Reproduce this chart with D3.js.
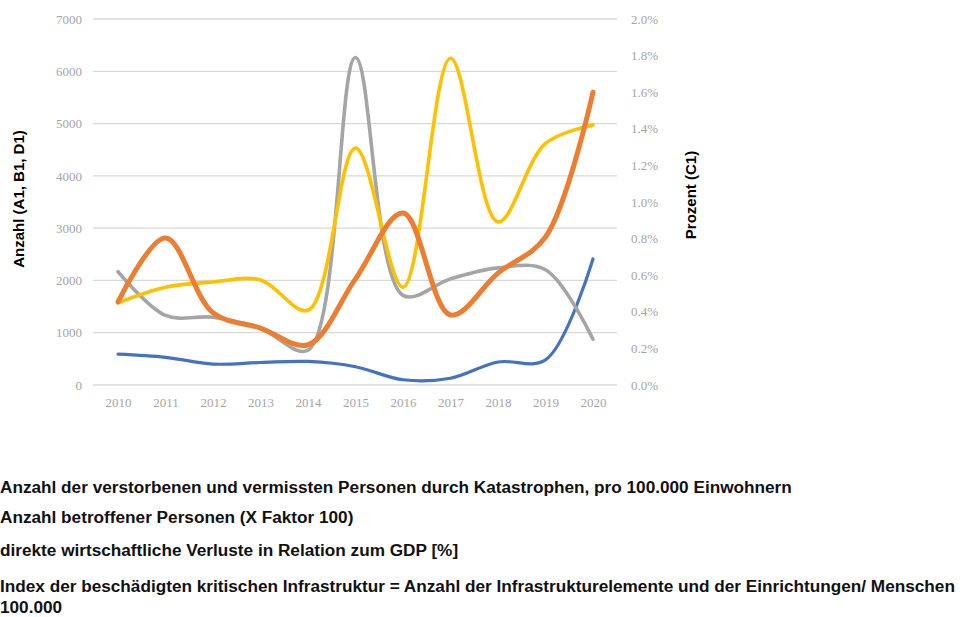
<!DOCTYPE html>
<html>
<head>
<meta charset="utf-8">
<script src="https://cdn.jsdelivr.net/npm/d3@7"></script>
<style>
  body { margin: 0; background: #fff; }
  svg { display: block; }
</style>
</head>
<body>
<svg width="974" height="617"></svg>
<script>
// years on the x axis
let years = ["2010", "2011", "2012", "2013", "2014", "2015", "2016", "2017", "2018", "2019", "2020"];

// left axis series (Anzahl)
let a1 = [590, 530, 400, 430, 450, 350, 100, 130, 440, 480, 2410];
let b1 = [1590, 2810, 1380, 1090, 770, 2030, 3290, 1340, 2140, 2830, 5600];
let d1 = [1570, 1870, 1970, 2010, 1430, 4530, 1870, 6250, 3120, 4620, 4970];
// right axis series (Prozent)
let c1 = [0.62, 0.38, 0.37, 0.31, 0.19, 1.79, 0.49, 0.58, 0.64, 0.63, 0.25];

let leftTicks = [0, 1000, 2000, 3000, 4000, 5000, 6000, 7000];
let rightTicks = [0, 0.2, 0.4, 0.6, 0.8, 1.0, 1.2, 1.4, 1.6, 1.8, 2.0];

let legendLines = [
    "Anzahl der verstorbenen und vermissten Personen durch Katastrophen, pro 100.000 Einwohnern",
    "Anzahl betroffener Personen (X Faktor 100)",
    "direkte wirtschaftliche Verluste in Relation zum GDP [%]",
    "Index der beschädigten kritischen Infrastruktur = Anzahl der Infrastrukturelemente und der Einrichtungen/ Menschen",
    "100.000"
];

let margin = {top: 19, left: 93, right: 617, bottom: 385};

let svg = d3.select("svg");

let xdim = d3.scalePoint().domain(years).range([118, 593]);
let ydim = d3.scaleLinear().domain([0, 7000]).range([margin.bottom, margin.top]);
let ydimR = d3.scaleLinear().domain([0, 2.0]).range([margin.bottom, margin.top]);

// gridlines
svg.append("g").selectAll("line").data(leftTicks).enter().append("line")
    .attr("x1", margin.left).attr("x2", margin.right)
    .attr("y1", function(d) { return ydim(d); })
    .attr("y2", function(d) { return ydim(d); })
    .style("stroke", "#d9d9d9").style("stroke-width", 1.3);

let tickFont = "'Liberation Serif', 'DejaVu Serif', serif";

let leftAxis = svg.append("g").attr("transform", "translate(82,0)")
    .call(d3.axisLeft(ydim).tickValues(leftTicks).tickSize(0).tickPadding(0).tickFormat(d3.format("d")));
leftAxis.select(".domain").remove();
leftAxis.selectAll("text").style("font-family", tickFont).style("font-size", "13px").style("fill", "#a6a6a6");

let rightAxis = svg.append("g").attr("transform", "translate(631,0)")
    .call(d3.axisRight(ydimR).tickValues(rightTicks).tickSize(0).tickPadding(0)
        .tickFormat(function(d) { return d.toFixed(1) + "%"; }));
rightAxis.select(".domain").remove();
rightAxis.selectAll("text").style("font-family", tickFont).style("font-size", "13px").style("fill", "#a6a6a6");

let xAxis = svg.append("g").attr("transform", "translate(0,398)")
    .call(d3.axisBottom(xdim).tickSize(0).tickPadding(0));
xAxis.select(".domain").remove();
xAxis.selectAll("text").style("font-family", tickFont).style("font-size", "13px").style("fill", "#a6a6a6");

// axis titles
svg.append("text")
    .attr("transform", "translate(24,199) rotate(-90)")
    .style("text-anchor", "middle")
    .style("font-family", "'Liberation Sans', Arial, sans-serif")
    .style("font-weight", "bold").style("font-size", "15px")
    .text("Anzahl (A1, B1, D1)");

svg.append("text")
    .attr("transform", "translate(696,195) rotate(-90)")
    .style("text-anchor", "middle")
    .style("font-family", "'Liberation Sans', Arial, sans-serif")
    .style("font-weight", "bold").style("font-size", "15px")
    .text("Prozent (C1)");

let curve = d3.curveCatmullRom.alpha(0.5);

let lineL = d3.line()
    .x(function(d, i) { return xdim(years[i]); })
    .y(function(d) { return ydim(d); })
    .curve(curve);
let lineR = d3.line()
    .x(function(d, i) { return xdim(years[i]); })
    .y(function(d) { return ydimR(d); })
    .curve(curve);

let series = [
    {data: a1, line: lineL, color: "#4472c4", w: 3.2},
    {data: c1, line: lineR, color: "#a5a5a5", w: 3.6},
    {data: d1, line: lineL, color: "#ffc000", w: 3.6},
    {data: b1, line: lineL, color: "#ed7d31", w: 5}
];

svg.selectAll(".series").data(series).enter().append("path")
    .attr("class", "series")
    .attr("d", function(d) { return d.line(d.data); })
    .style("fill", "none")
    .style("stroke", function(d) { return d.color; })
    .style("stroke-width", function(d) { return d.w; })
    .style("stroke-linecap", "round")
    .style("stroke-linejoin", "round");

// legend text below
let legendY = [493, 523, 556, 592, 613];
svg.selectAll(".legend").data(legendLines).enter().append("text")
    .attr("class", "legend")
    .attr("x", 0)
    .attr("y", function(d, i) { return legendY[i]; })
    .style("font-family", "'Liberation Sans', sans-serif")
    .style("font-weight", "bold")
    .style("font-size", "17.2px")
    .style("fill", "#111")
    .text(function(d) { return d; });
</script>
</body>
</html>
